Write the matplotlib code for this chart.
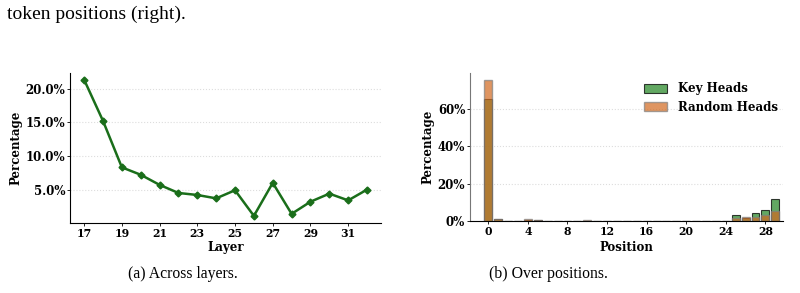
import matplotlib
matplotlib.use("Agg")
import matplotlib.pyplot as plt
from matplotlib.ticker import FuncFormatter

layers = list(range(17, 33))
layer_pct = [21.3, 15.2, 8.3, 7.2, 5.7, 4.5, 4.2, 3.7, 4.9, 1.1, 6.0, 1.4, 3.2, 4.4, 3.4, 5.0]

positions = list(range(0, 30))
key_heads = [65.2, 1.0, 0.3, 0.3, 0.9, 0.5, 0.2, 0.3, 0.2, 0.2, 0.4, 0.2, 0.2, 0.2, 0.2, 0.2,
             0.2, 0.2, 0.2, 0.2, 0.2, 0.2, 0.2, 0.2, 0.3, 3.2, 2.0, 4.3, 6.0, 11.8]
random_heads = [75.2, 1.1, 0.3, 0.3, 1.0, 0.7, 0.3, 0.3, 0.3, 0.3, 0.6, 0.3, 0.3, 0.3, 0.3, 0.3,
                0.3, 0.3, 0.3, 0.3, 0.3, 0.3, 0.3, 0.3, 0.3, 1.6, 2.1, 2.5, 3.2, 5.3]

left_xticks = [17, 19, 21, 23, 25, 27, 29, 31]
right_xticks = [0, 4, 8, 12, 16, 20, 24, 28]
left_yticks = [5, 10, 15, 20]
right_yticks = [0, 20, 40, 60]

serif_bold = dict(family="DejaVu Serif", weight="bold")

fig = plt.figure(figsize=(8, 2.93), dpi=100)

# Left panel
ax1 = fig.add_axes([0.0875, 0.240, 0.389, 0.511])
ax1.plot(layers, layer_pct, color="#1a6e1a", lw=1.8, marker="D", ms=3.5)
ax1.set_xticks(left_xticks)
ax1.set_yticks(left_yticks)
ax1.yaxis.set_major_formatter(FuncFormatter(lambda v, p: f"{v:.1f}%"))
ax1.set_xlabel("Layer", fontsize=8.5, labelpad=1.5, **serif_bold)
ax1.set_ylabel("Percentage", fontsize=8.5, labelpad=2, **serif_bold)

# Right panel
ax2 = fig.add_axes([0.5875, 0.2447, 0.3909, 0.5063])
ax2.bar(positions, key_heads, width=0.8, color="#2e8b2e", alpha=0.75,
        edgecolor="black", linewidth=0.8, label="Key Heads")
ax2.bar(positions, random_heads, width=0.8, color="#d2691e", alpha=0.7,
        edgecolor="gray", linewidth=1.0, label="Random Heads")
ax2.set_xlim(-1.85, 29.75)
ax2.set_xticks(right_xticks)
ax2.set_yticks(right_yticks)
ax2.yaxis.set_major_formatter(FuncFormatter(lambda v, p: f"{v:.0f}%"))
ax2.set_xlabel("Position", fontsize=8.5, labelpad=2.5, **serif_bold)
ax2.set_ylabel("Percentage", fontsize=8.5, labelpad=2, **serif_bold)
leg = ax2.legend(frameon=False, loc="upper right", prop=dict(size=8.5, **serif_bold),
                 handlelength=2.0, handleheight=0.8, handletextpad=0.9,
                 borderaxespad=0.0, labelspacing=0.5,
                 bbox_to_anchor=(1.0, 0.97))

for ax in (ax1, ax2):
    for s in ("top", "right"):
        ax.spines[s].set_visible(False)
    ax.grid(axis="y", linestyle=":", color="#dddddd", lw=0.8)
    ax.set_axisbelow(True)
    ax.tick_params(axis="both", length=2, width=0.6, pad=1.5)
    for lab in ax.get_xticklabels():
        lab.set_fontsize(7.8)
        lab.set_family("DejaVu Serif")
        lab.set_weight("bold")
    for lab in ax.get_yticklabels():
        lab.set_fontsize(8.5)
        lab.set_family("DejaVu Serif")
        lab.set_weight("bold")
ax2.spines["left"].set_color("#777777")

fig.text(7 / 800, 1 - 19 / 293, "token positions (right).", ha="left", va="baseline",
         family="Liberation Serif", fontsize=14)
fig.text(183 / 800, 1 - 274 / 293, "(a) Across layers.", ha="center", va="center",
         family="Liberation Serif", fontsize=11.3)
fig.text(548 / 800, 1 - 274 / 293, "(b) Over positions.", ha="center", va="center",
         family="Liberation Serif", fontsize=11.3)

fig.savefig("out.png", dpi=100)
